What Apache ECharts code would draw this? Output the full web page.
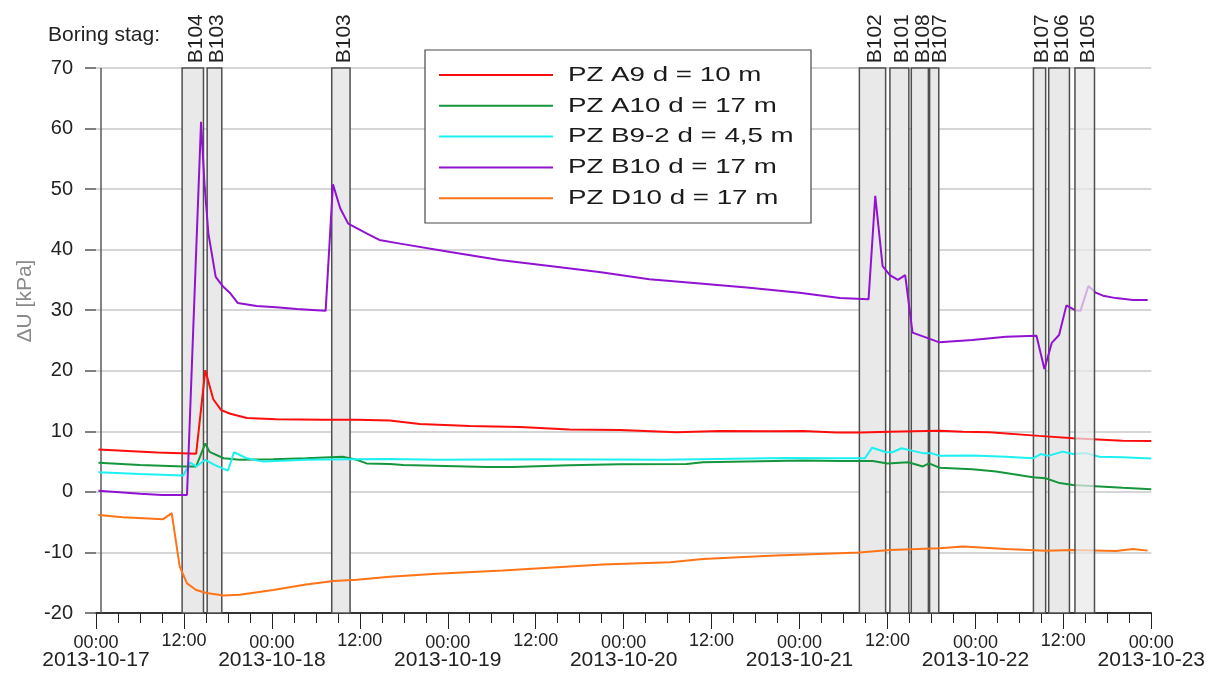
<!DOCTYPE html>
<html>
<head>
<meta charset="utf-8">
<script src="https://cdn.jsdelivr.net/npm/echarts@6/dist/echarts.min.js"></script>
<style>
  html, body { margin: 0; padding: 0; background: #fff; }
  #chart { width: 1208px; height: 673px; }
</style>
</head>
<body>
<div id="chart"></div>
<script>
// Change in pore pressure (ΔU) per piezometer while piles were being drilled, 17–23 Oct 2013

const seriesNames = ['PZ A9 d = 10 m', 'PZ A10 d = 17 m', 'PZ B9-2 d = 4,5 m', 'PZ B10 d = 17 m', 'PZ D10 d = 17 m'];

// [time, ΔU kPa]
const pzA9 = [
  ['2013-10-17 00:20', 7.0], ['2013-10-17 03:40', 6.8], ['2013-10-17 08:20', 6.5], ['2013-10-17 11:40', 6.4],
  ['2013-10-17 13:40', 6.3], ['2013-10-17 14:55', 20.1], ['2013-10-17 16:00', 15.3], ['2013-10-17 17:05', 13.5],
  ['2013-10-17 18:20', 12.9], ['2013-10-17 20:35', 12.2], ['2013-10-18 00:35', 12.0], ['2013-10-18 07:00', 11.9],
  ['2013-10-18 11:35', 11.9], ['2013-10-18 16:05', 11.8], ['2013-10-18 20:10', 11.2], ['2013-10-19 03:00', 10.9],
  ['2013-10-19 09:50', 10.7], ['2013-10-19 16:35', 10.3], ['2013-10-19 23:30', 10.2], ['2013-10-20 07:10', 9.85],
  ['2013-10-20 13:05', 10.05], ['2013-10-20 19:55', 10.0], ['2013-10-21 00:30', 10.05], ['2013-10-21 05:00', 9.8],
  ['2013-10-21 08:10', 9.8], ['2013-10-21 12:20', 9.95], ['2013-10-21 19:05', 10.1], ['2013-10-21 22:20', 9.95],
  ['2013-10-22 01:55', 9.85], ['2013-10-22 08:40', 9.25], ['2013-10-22 13:20', 8.85], ['2013-10-22 20:05', 8.45],
  ['2013-10-23 00:00', 8.4]
];

const pzA10 = [
  ['2013-10-17 00:20', 4.8], ['2013-10-17 06:00', 4.45], ['2013-10-17 11:55', 4.2], ['2013-10-17 13:40', 4.2],
  ['2013-10-17 14:55', 8.0], ['2013-10-17 15:30', 6.6], ['2013-10-17 17:25', 5.55], ['2013-10-17 19:35', 5.3],
  ['2013-10-18 00:10', 5.4], ['2013-10-18 04:40', 5.55], ['2013-10-18 09:40', 5.8], ['2013-10-18 11:35', 5.3],
  ['2013-10-18 12:55', 4.7], ['2013-10-18 16:05', 4.6], ['2013-10-18 17:55', 4.45], ['2013-10-19 05:20', 4.1],
  ['2013-10-19 08:55', 4.1], ['2013-10-19 16:35', 4.4], ['2013-10-19 23:30', 4.55], ['2013-10-20 08:35', 4.6],
  ['2013-10-20 10:50', 4.9], ['2013-10-21 00:30', 5.2], ['2013-10-21 05:30', 5.1], ['2013-10-21 10:00', 5.1],
  ['2013-10-21 12:00', 4.7], ['2013-10-21 14:50', 4.9], ['2013-10-21 16:50', 4.2], ['2013-10-21 17:40', 4.7],
  ['2013-10-21 19:05', 4.0], ['2013-10-21 23:35', 3.75], ['2013-10-22 02:50', 3.35], ['2013-10-22 07:50', 2.4],
  ['2013-10-22 09:35', 2.25], ['2013-10-22 11:30', 1.45], ['2013-10-22 13:20', 1.15], ['2013-10-22 20:05', 0.7],
  ['2013-10-23 00:00', 0.45]
];

const pzB9 = [
  ['2013-10-17 00:20', 3.25], ['2013-10-17 06:00', 2.95], ['2013-10-17 11:55', 2.7], ['2013-10-17 12:50', 4.85],
  ['2013-10-17 13:40', 4.2], ['2013-10-17 14:55', 5.3], ['2013-10-17 16:10', 4.45], ['2013-10-17 18:00', 3.5],
  ['2013-10-17 18:50', 6.55], ['2013-10-17 20:35', 5.55], ['2013-10-17 22:50', 5.0], ['2013-10-18 04:40', 5.3],
  ['2013-10-18 10:35', 5.4], ['2013-10-18 16:05', 5.45], ['2013-10-18 22:30', 5.3], ['2013-10-19 12:05', 5.4],
  ['2013-10-20 05:25', 5.3], ['2013-10-20 22:10', 5.6], ['2013-10-21 05:30', 5.55], ['2013-10-21 08:55', 5.55],
  ['2013-10-21 09:55', 7.3], ['2013-10-21 11:50', 6.55], ['2013-10-21 12:40', 6.55], ['2013-10-21 13:55', 7.2],
  ['2013-10-21 15:00', 6.9], ['2013-10-21 16:50', 6.4], ['2013-10-21 18:00', 6.4], ['2013-10-21 19:05', 5.95],
  ['2013-10-21 23:35', 6.0], ['2013-10-22 04:10', 5.8], ['2013-10-22 07:50', 5.55], ['2013-10-22 08:55', 6.25],
  ['2013-10-22 09:55', 5.95], ['2013-10-22 11:55', 6.65], ['2013-10-22 13:20', 6.25], ['2013-10-22 15:05', 6.4],
  ['2013-10-22 16:55', 5.8], ['2013-10-22 20:05', 5.7], ['2013-10-23 00:00', 5.5]
];

const pzB10 = [
  ['2013-10-17 00:20', 0.2], ['2013-10-17 03:40', -0.1], ['2013-10-17 06:00', -0.3], ['2013-10-17 09:00', -0.5],
  ['2013-10-17 12:25', -0.5], ['2013-10-17 14:20', 61.1], ['2013-10-17 14:50', 50.4], ['2013-10-17 15:20', 42.7],
  ['2013-10-17 16:20', 35.5], ['2013-10-17 17:20', 33.9], ['2013-10-17 18:15', 32.9], ['2013-10-17 19:20', 31.2],
  ['2013-10-17 21:55', 30.7], ['2013-10-18 00:35', 30.5], ['2013-10-18 03:25', 30.2], ['2013-10-18 06:05', 30.0],
  ['2013-10-18 07:20', 29.9], ['2013-10-18 08:20', 50.8], ['2013-10-18 09:20', 46.8], ['2013-10-18 10:25', 44.3],
  ['2013-10-18 12:55', 42.7], ['2013-10-18 14:40', 41.6], ['2013-10-18 17:30', 41.0], ['2013-10-19 00:20', 39.6],
  ['2013-10-19 07:05', 38.3], ['2013-10-19 13:55', 37.3], ['2013-10-19 20:40', 36.3], ['2013-10-20 03:30', 35.1],
  ['2013-10-20 10:25', 34.4], ['2013-10-20 17:10', 33.7], ['2013-10-21 00:00', 32.9], ['2013-10-21 05:30', 32.0],
  ['2013-10-21 09:25', 31.8], ['2013-10-21 10:20', 48.9], ['2013-10-21 11:20', 37.3], ['2013-10-21 12:20', 35.8],
  ['2013-10-21 13:25', 35.0], ['2013-10-21 14:25', 35.8], ['2013-10-21 15:25', 26.3], ['2013-10-21 17:30', 25.4],
  ['2013-10-21 19:05', 24.7], ['2013-10-21 23:35', 25.1], ['2013-10-22 04:10', 25.6], ['2013-10-22 08:20', 25.8],
  ['2013-10-22 09:25', 20.3], ['2013-10-22 10:25', 24.6], ['2013-10-22 11:25', 25.9], ['2013-10-22 12:25', 30.8],
  ['2013-10-22 13:35', 30.0], ['2013-10-22 14:20', 29.9], ['2013-10-22 15:25', 34.0], ['2013-10-22 16:25', 32.9],
  ['2013-10-22 17:25', 32.4], ['2013-10-22 19:10', 32.0], ['2013-10-22 21:30', 31.7], ['2013-10-22 23:30', 31.7]
];

const pzD10 = [
  ['2013-10-17 00:20', -3.8], ['2013-10-17 03:40', -4.2], ['2013-10-17 09:10', -4.5], ['2013-10-17 10:20', -3.5],
  ['2013-10-17 11:25', -12.3], ['2013-10-17 12:25', -15.1], ['2013-10-17 13:40', -16.2], ['2013-10-17 15:05', -16.7],
  ['2013-10-17 17:25', -17.1], ['2013-10-17 19:35', -17.0], ['2013-10-18 00:10', -16.2], ['2013-10-18 04:40', -15.3],
  ['2013-10-18 08:25', -14.7], ['2013-10-18 11:35', -14.5], ['2013-10-18 16:05', -14.0], ['2013-10-18 22:30', -13.5],
  ['2013-10-19 07:30', -13.0], ['2013-10-19 21:10', -12.0], ['2013-10-20 06:20', -11.6], ['2013-10-20 10:50', -11.1],
  ['2013-10-20 19:55', -10.55], ['2013-10-21 08:10', -10.0], ['2013-10-21 12:20', -9.6], ['2013-10-21 19:05', -9.3],
  ['2013-10-21 22:20', -9.0], ['2013-10-22 04:10', -9.45], ['2013-10-22 09:35', -9.7], ['2013-10-22 13:20', -9.6],
  ['2013-10-22 19:10', -9.75], ['2013-10-22 21:30', -9.45], ['2013-10-22 23:30', -9.7]
];

// Drilling periods ("boring stag") for each pile
const boringNames = ['B104', 'B103', 'B103', 'B102', 'B101', 'B108', 'B107', 'B107', 'B106', 'B105'];
const boringStart = ['2013-10-17 11:45', '2013-10-17 15:10', '2013-10-18 08:10', '2013-10-21 08:10', '2013-10-21 12:20',
                     '2013-10-21 15:15', '2013-10-21 17:45', '2013-10-22 07:55', '2013-10-22 10:00', '2013-10-22 13:35'];
const boringEnd   = ['2013-10-17 14:40', '2013-10-17 17:10', '2013-10-18 10:40', '2013-10-21 11:45', '2013-10-21 14:55',
                     '2013-10-21 17:35', '2013-10-21 19:00', '2013-10-22 09:35', '2013-10-22 12:50', '2013-10-22 16:15'];

// Logger start marker
const loggerStart = '2013-10-17 00:40';

const timeMin = '2013-10-17 00:00';
const timeMax = '2013-10-23 00:00';
const yMin = -20, yMax = 70, yStep = 10;

const colors = ['#ff0d0d', '#16963c', '#1cf0f0', '#9212d2', '#ff7416'];
const FONT = '"Liberation Sans", Arial, Helvetica, sans-serif';

const ts = s => new Date(s.replace(' ', 'T')).getTime();
const pad = n => String(n).padStart(2, '0');
const HOUR = 3600 * 1000;

const seriesData = [pzA9, pzA10, pzB9, pzB10, pzD10];

const bandLabel = {
  show: true, position: 'top', rotate: 90, align: 'left', verticalAlign: 'middle',
  distance: 4, fontSize: 21, color: '#222', fontFamily: FONT
};

// short drilling periods get their label pushed a little further right so neighbours don't collide
const bandPairs = boringNames.map((name, i) => {
  const t0 = ts(boringStart[i]), t1 = ts(boringEnd[i]);
  const nudge = (t1 - t0) < 1.5 * HOUR ? 6 : 3;
  return [
    { name: name, xAxis: t0, label: { offset: [0, nudge] } },
    { xAxis: t1 }
  ];
});
// the most recent boring is drawn translucent above the curves
const lastBand = bandPairs.length - 1;

const lineSeries = seriesData.map((d, i) => ({
  type: 'line',
  name: seriesNames[i],
  data: d.map(p => [ts(p[0]), p[1]]),
  showSymbol: false,
  symbol: 'none',
  z: 2,
  lineStyle: { width: 2, color: colors[i] },
  itemStyle: { color: colors[i] },
  emphasis: { disabled: true }
}));

const bandSeries = [
  {
    type: 'line', data: [], silent: true,
    markArea: {
      silent: true, z: 1,
      itemStyle: { color: '#e9e9e9', borderColor: '#4f4f4f', borderWidth: 1.5 },
      label: bandLabel,
      emphasis: { disabled: true },
      data: bandPairs.slice(0, lastBand)
    },
    markLine: {
      silent: true, symbol: 'none', z: 1,
      label: { show: false },
      lineStyle: { color: '#5a5a5a', width: 1.5, type: 'solid' },
      emphasis: { disabled: true },
      data: [{ xAxis: ts(loggerStart) }]
    }
  },
  {
    type: 'line', data: [], silent: true,
    markArea: {
      silent: true, z: 3,
      itemStyle: { color: 'rgba(233,233,233,0.72)', borderColor: '#4f4f4f', borderWidth: 1.5 },
      label: bandLabel,
      emphasis: { disabled: true },
      data: bandPairs.slice(lastBand)
    }
  }
];

// Legend box drawn with stretched text
const legendX = 425, legendY = 50, legendW = 386, legendH = 173;
const rowY0 = 75, rowStep = 30.8;
const legendGraphics = [
  {
    type: 'rect', z: 20,
    shape: { x: legendX, y: legendY, width: legendW, height: legendH },
    style: { fill: '#fff', stroke: '#4a4a4a', lineWidth: 1.2 }
  }
];
seriesNames.forEach((n, i) => {
  const y = rowY0 + i * rowStep;
  legendGraphics.push({
    type: 'line', z: 21,
    shape: { x1: 439, y1: y, x2: 553, y2: y },
    style: { stroke: colors[i], lineWidth: 2 }
  });
  legendGraphics.push({
    type: 'text', z: 21, x: 568, y: y, scaleX: 1.32,
    style: {
      text: n, font: '21px ' + FONT, fill: '#1a1a1a',
      align: 'left', verticalAlign: 'middle', textAlign: 'left', textVerticalAlign: 'middle'
    }
  });
});
legendGraphics.push({
  type: 'text', z: 21, x: 25, y: 301, rotation: Math.PI / 2,
  style: {
    text: 'ΔU [kPa]', font: '21px ' + FONT, fill: '#8a8a8a',
    align: 'center', verticalAlign: 'middle', textAlign: 'center', textVerticalAlign: 'middle'
  }
});

const chart = echarts.init(document.getElementById('chart'), null, { renderer: 'canvas' });
chart.setOption({
  animation: false,
  backgroundColor: '#fff',
  textStyle: { fontFamily: FONT },
  title: {
    text: 'Boring stag:', left: 48, top: 25, padding: 0,
    textStyle: { fontSize: 21, fontWeight: 'normal', color: '#222', fontFamily: FONT }
  },
  grid: { left: 96, right: 56, top: 68, bottom: 60, containLabel: false },
  xAxis: {
    type: 'value',
    min: ts(timeMin), max: ts(timeMax), interval: 12 * HOUR,
    axisLine: { onZero: false, lineStyle: { color: '#000', width: 1.5 } },
    axisTick: { length: 16, lineStyle: { color: '#222', width: 1 } },
    minorTick: { show: true, splitNumber: 4, length: 10, lineStyle: { color: '#222', width: 1 } },
    splitLine: { show: false },
    minorSplitLine: { show: false },
    axisLabel: {
      margin: 18, showMinLabel: true, showMaxLabel: true,
      formatter: v => {
        const d = new Date(v);
        const hm = pad(d.getHours()) + ':' + pad(d.getMinutes());
        if (d.getHours() === 0) {
          const day = d.getFullYear() + '-' + pad(d.getMonth() + 1) + '-' + pad(d.getDate());
          return '{t0|' + hm + '}\n{d|' + day + '}';
        }
        return '{t|' + hm + '}';
      },
      rich: {
        t: { fontSize: 18, lineHeight: 20, color: '#222', fontFamily: FONT },
        t0: { fontSize: 18, lineHeight: 20, color: '#222', fontFamily: FONT, padding: [4, 0, 0, 0] },
        d: { fontSize: 21, lineHeight: 19, color: '#222', fontFamily: FONT }
      }
    }
  },
  yAxis: {
    type: 'value', min: yMin, max: yMax, interval: yStep,
    axisLine: { show: false },
    axisTick: { show: true, length: 11, lineStyle: { color: '#555', width: 1.5 } },
    axisLabel: { fontSize: 20, color: '#222', margin: 23, fontFamily: FONT },
    splitLine: { lineStyle: { color: '#c9c9c9', width: 1.5 } }
  },
  graphic: legendGraphics,
  series: bandSeries.concat(lineSeries)
});
</script>
</body>
</html>
